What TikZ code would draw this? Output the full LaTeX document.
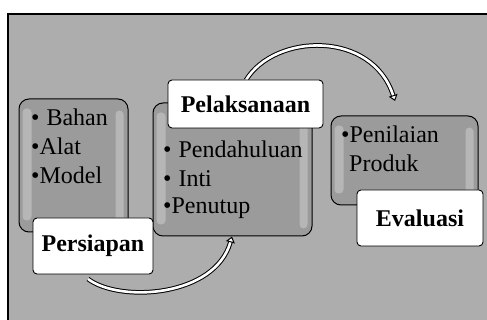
\documentclass[tikz,border=0pt]{standalone}
\usepackage{fontspec}
\setmainfont{Liberation Serif}
\usetikzlibrary{calc,arrows.meta}
\definecolor{bgray}{HTML}{ADADAD}
\definecolor{boxgray}{HTML}{9B9B9B}
\begin{document}
\begin{tikzpicture}[x=1pt,y=-1pt,
  stagebox/.style={draw=black, line width=1pt, fill=boxgray, rounded corners=10pt, inner sep=0pt},
  labelbox/.style={draw=black, line width=0.9pt, fill=white, rounded corners=4pt, inner sep=0pt,
     font=\fontsize{24}{29}\selectfont\bfseries},
  item/.style={anchor=base west, inner sep=0pt, font=\fontsize{24}{29}\selectfont},
  strip/.style={fill=white, opacity=0.28, rounded corners=4pt},
  flow/.style={draw=black, double=white, double distance=2.6pt, line width=1pt,
     -{Triangle[open, fill=white, length=6pt, width=9pt]}}]
\useasboundingbox (0,0) rectangle (487,320);
\clip (0,0) rectangle (487,320);
\fill[white] (0,0) rectangle (487,320);
\draw[line width=1.6pt, fill=bgray] (8,14) rectangle (520,360);

% stage boxes
\node[stagebox, minimum width=109pt, minimum height=133pt] (b1) at (73.5,165.5) {};
\node[stagebox, minimum width=159pt, minimum height=133pt] (b2) at (232.5,169.5) {};
\node[stagebox, minimum width=147pt, minimum height=89pt] (b3) at (404.5,160.5) {};

% highlight strips
\foreach \n in {b1,b2,b3}{
  \fill[strip] ($(\n.north west)+(4,10)$) rectangle ($(\n.south west)+(13,-12)$);
  \fill[strip] ($(\n.north east)+(-13,12)$) rectangle ($(\n.south east)+(-5,-8)$);
}

% texts
\node[item] (t11) at (31,126) {\textbullet\hspace{7pt}Bahan};
\node[item] (t12) at (31,155) {\textbullet Alat};
\node[item] (t13) at (31,184) {\textbullet Model};
\node[item] (t21) at (163,158) {\textbullet\hspace{7pt}Pendahuluan};
\node[item] (t22) at (163,187) {\textbullet\hspace{7pt}Inti};
\node[item] (t23) at (163,214) {\textbullet Penutup};
\node[item] (t31) at (341,143) {\textbullet Penilaian};
\node[item] (t32) at (349,172) {Produk};

% connectors
\coordinate (a1s) at (88,279);
\coordinate (a2s) at (246,80);
\coordinate (a2e) at (395,101);
\draw[flow] (a1s) .. controls (120,303) and (215,297) .. (b2.south -| 232,0);
\draw[flow] (a2s) .. controls (275,33) and (372,30) .. (a2e);

% labels
\node[labelbox, minimum width=120pt, minimum height=56pt] (l1) at (93,246) {Persiapan};
\node[labelbox, minimum width=155pt, minimum height=48pt] (l2) at (245.5,104) {Pelaksanaan};
\node[labelbox, minimum width=126pt, minimum height=56pt] (l3) at (420,218) {Evaluasi};
\end{tikzpicture}
\end{document}
